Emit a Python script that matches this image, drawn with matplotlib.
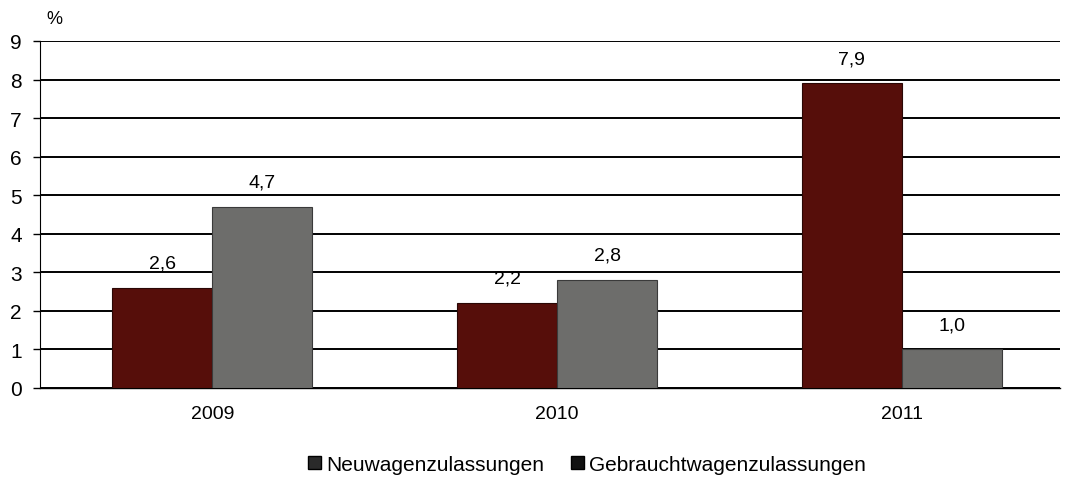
import numpy as np
import matplotlib.pyplot as plt
from matplotlib.patches import Patch

plt.rcParams['font.family'] = ['Liberation Sans', 'DejaVu Sans']

years = ["2009", "2010", "2011"]
neuwagen = [2.6, 2.2, 7.9]
gebraucht = [4.7, 2.8, 1.0]
series_names = ["Neuwagenzulassungen", "Gebrauchtwagenzulassungen"]

fig = plt.figure(figsize=(10.73, 4.81), dpi=100)
ax = fig.add_axes([0.0373, 0.1913, 0.951, 0.7214])

x = np.arange(len(years))
w = 0.29
ax.bar(x - w / 2, neuwagen, width=w, color="#560e0a", edgecolor="#2a0705", linewidth=0.8, zorder=3)
ax.bar(x + w / 2, gebraucht, width=w, color="#6d6d6b", edgecolor="#3a3a3a", linewidth=0.8, zorder=3)

for xi, v in zip(x - w / 2, neuwagen):
    ax.text(xi, v + 0.42, f"{v:.1f}".replace(".", ","), ha="center", va="bottom", fontsize=14, zorder=4)
for xi, v in zip(x + w / 2, gebraucht):
    ax.text(xi, v + 0.42, f"{v:.1f}".replace(".", ","), ha="center", va="bottom", fontsize=14, zorder=4)

ax.set_xlim(-0.5, 2.46)
ax.set_ylim(0, 9)
ax.set_yticks(range(0, 10))
ax.yaxis.grid(True, color="black", linewidth=1.4, zorder=1)
ax.set_axisbelow(True)
ax.set_xticks(x)
ax.set_xticklabels(years, fontsize=14)
ax.tick_params(axis="x", length=0, pad=12)
ax.tick_params(axis="y", labelsize=15, length=5, width=1, pad=8)
for s in ["top", "right"]:
    ax.spines[s].set_visible(False)
ax.spines["left"].set_linewidth(0.8)
ax.spines["bottom"].set_linewidth(1.0)

fig.text(0.043, 0.96, "%", fontsize=13, ha="left", va="center")

handles = [Patch(facecolor="#2a2a2a", edgecolor="black"), Patch(facecolor="#111111", edgecolor="black")]
fig.legend(handles, series_names, loc="center", bbox_to_anchor=(0.547, 0.032), ncol=2,
           frameon=False, fontsize=15, handlelength=0.6, handleheight=0.6,
           handletextpad=0.25, columnspacing=1.3)

fig.savefig("out.png", dpi=100)
